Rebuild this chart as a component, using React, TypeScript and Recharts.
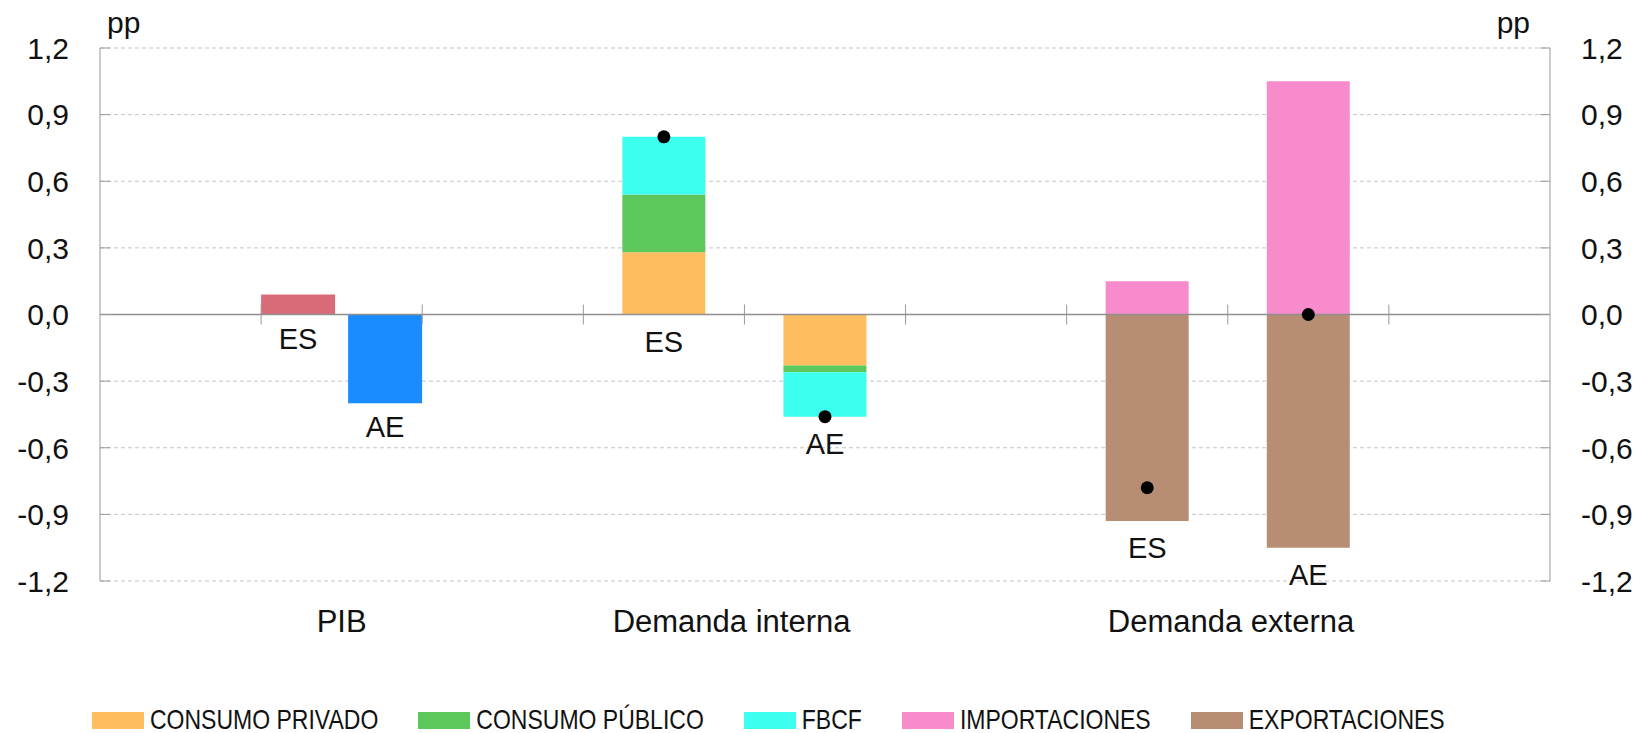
import React from 'react';
import { BarChart, Bar, Line, XAxis, YAxis, CartesianGrid, ReferenceLine, Legend, LabelList } from 'recharts';

// nine slots along the category axis; empty ones leave the gaps between groups
const huecos = ['h0', 'PIB', 'h2', 'DI-ES', 'DI-AE', 'h5', 'DE-ES', 'DE-AE', 'h8'];
const zonas = ['', '', '', 'ES', 'AE', '', 'ES', 'AE', ''];

const consumoPrivado = [null, null, null, 0.28, -0.23, null, null, null, null];
const consumoPublico = [null, null, null, 0.26, -0.03, null, null, null, null];
const fbcf = [null, null, null, 0.26, -0.2, null, null, null, null];
const importaciones = [null, null, null, null, null, null, 0.15, 1.05, null];
const exportaciones = [null, null, null, null, null, null, -0.93, -1.05, null];
const contribucion = [null, null, null, 0.8, -0.46, null, -0.78, 0.0, null];

const pibES = [null, 0.09, null, null, null, null, null, null, null];
const pibAE = [null, -0.4, null, null, null, null, null, null, null];

const grupos = ['PIB', 'Demanda interna', 'Demanda externa'];
const posGrupos = [1.5, 3.92, 7.02];
const limites = [1, 2, 3, 4, 5, 6, 7, 8];
const yTicks = [-1.2, -0.9, -0.6, -0.3, 0, 0.3, 0.6, 0.9, 1.2];
const ordenLeyenda = ['CONSUMO PRIVADO', 'CONSUMO PÚBLICO', 'FBCF', 'IMPORTACIONES', 'EXPORTACIONES'];

const INK = '#111111';
const GRIS = '#999999';
const FONT = '"Liberation Sans", Arial, Helvetica, sans-serif';

const data = huecos.map((slot, i) => {
  const partes = [consumoPrivado[i], consumoPublico[i], fbcf[i], importaciones[i], exportaciones[i]];
  const negativo = partes.reduce<number>((s, v) => s + (v !== null && v < 0 ? v : 0), 0);
  return {
    slot,
    centro: i + 0.5,
    cp: consumoPrivado[i],
    cpub: consumoPublico[i],
    fbcf: fbcf[i],
    imp: importaciones[i],
    exp: exportaciones[i],
    total: contribucion[i],
    base: zonas[i] ? negativo : null,
    pibES: pibES[i],
    pibAE: pibAE[i],
  };
});

const fmt = (v: number) => v.toFixed(1).replace('.', ',');

const TickIzq = (props: any) => {
  const { x, y, payload } = props;
  return (
    <g>
      <line x1={x + 31} x2={x + 41} y1={y} y2={y} stroke={GRIS} />
      <text x={x} y={y} dy="0.36em" textAnchor="end" fontSize={30} fill={INK}>
        {fmt(payload.value)}
      </text>
    </g>
  );
};

const TickDer = (props: any) => {
  const { x, y, payload } = props;
  return (
    <g>
      <line x1={x - 31} x2={x - 41} y1={y} y2={y} stroke={GRIS} />
      <text x={x} y={y} dy="0.36em" textAnchor="start" fontSize={30} fill={INK}>
        {fmt(payload.value)}
      </text>
    </g>
  );
};

const TickGrupo = (props: any) => {
  const { x, y, payload } = props;
  const i = posGrupos.indexOf(payload.value);
  return (
    <text x={x} y={y + 21} textAnchor="middle" fontSize={31} fill={INK}>
      {grupos[i]}
    </text>
  );
};

const ppIzq = (props: any) => {
  const vb = props.viewBox || {};
  return (
    <text x={vb.x + vb.width + 7} y={vb.y - 15} fontSize={30} fill={INK}>
      pp
    </text>
  );
};

const ppDer = (props: any) => {
  const vb = props.viewBox || {};
  return (
    <text x={vb.x - 20} y={vb.y - 15} textAnchor="end" fontSize={30} fill={INK}>
      pp
    </text>
  );
};

// label under the bar (or under the zero line when the bar is positive)
const bajoBarra = (texto: string) => (props: any) => {
  const vb = props.viewBox || props;
  if (props.value === null || props.value === undefined) return null;
  const bottom = Math.max(vb.y, vb.y + vb.height);
  return (
    <text x={vb.x + vb.width / 2} y={bottom + 34} textAnchor="middle" fontSize={29} fill={INK}>
      {texto}
    </text>
  );
};

const bajoPila = (props: any) => {
  const { index } = props;
  if (!zonas[index] || props.value === null || props.value === undefined) return null;
  const x = props.x ?? props.viewBox?.x;
  const y = props.y ?? props.viewBox?.y;
  return (
    <text x={x} y={y + 37} textAnchor="middle" fontSize={29} fill={INK}>
      {zonas[index]}
    </text>
  );
};

const Leyenda = (props: any) => {
  const items = (props.payload || [])
    .filter((e: any) => ordenLeyenda.includes(e.value))
    .sort((a: any, b: any) => ordenLeyenda.indexOf(a.value) - ordenLeyenda.indexOf(b.value));
  return (
    <div
      style={{
        height: 40,
        boxSizing: 'border-box',
        paddingTop: 19,
        paddingLeft: 92,
        display: 'flex',
        alignItems: 'flex-start',
      }}
    >
      {items.map((e: any) => (
        <div key={e.value} style={{ display: 'flex', alignItems: 'center', height: 17, marginRight: 40 }}>
          <span style={{ width: 52, height: 17, background: e.color, display: 'inline-block' }} />
          <span
            style={{
              marginLeft: 6,
              fontFamily: FONT,
              fontSize: 23,
              lineHeight: '17px',
              color: INK,
              whiteSpace: 'nowrap',
              display: 'inline-block',
              transform: 'scaleY(1.2)',
              transformOrigin: '50% 50%',
            }}
          >
            {e.value}
          </span>
        </div>
      ))}
    </div>
  );
};

const App = () => {
  return (
    <div style={{ position: 'absolute', left: 0, top: 0, fontFamily: FONT, background: '#fff' }}>
      <BarChart
        width={1640}
        height={733}
        data={data}
        margin={{ top: 48, right: 0, bottom: 0, left: 0 }}
        stackOffset="sign"
        barGap={13}
      >
        <XAxis xAxisId="main" dataKey="slot" hide />
        <XAxis xAxisId="pib" dataKey="slot" hide />
        <XAxis
          xAxisId="num"
          dataKey="centro"
          type="number"
          domain={[0, 9]}
          allowDataOverflow
          ticks={posGrupos}
          tick={<TickGrupo />}
          tickLine={false}
          axisLine={false}
          tickSize={0}
          tickMargin={0}
          height={112}
          interval={0}
        />
        <YAxis
          yAxisId="left"
          orientation="left"
          domain={[-1.2, 1.2]}
          ticks={yTicks}
          allowDataOverflow
          width={100}
          tick={<TickIzq />}
          tickLine={false}
          tickSize={0}
          tickMargin={31}
          axisLine={{ stroke: GRIS }}
          interval={0}
          label={{ content: ppIzq }}
        />
        <YAxis
          yAxisId="right"
          orientation="right"
          domain={[-1.2, 1.2]}
          ticks={yTicks}
          allowDataOverflow
          width={90}
          tick={<TickDer />}
          tickLine={false}
          tickSize={0}
          tickMargin={31}
          axisLine={{ stroke: GRIS }}
          interval={0}
          label={{ content: ppDer }}
        />
        <CartesianGrid
          xAxisId="num"
          yAxisId="left"
          vertical={false}
          stroke="#c4c4c4"
          strokeDasharray="4 3"
        />
        {limites.map((k) => (
          <ReferenceLine
            key={k}
            xAxisId="num"
            yAxisId="left"
            segment={[
              { x: k, y: -0.045 },
              { x: k, y: 0.045 },
            ]}
            stroke={GRIS}
            strokeWidth={1}
          />
        ))}
        <Bar xAxisId="main" yAxisId="left" dataKey="cp" name="CONSUMO PRIVADO" stackId="d" fill="#FEBD5F" barSize={83} isAnimationActive={false} />
        <Bar xAxisId="main" yAxisId="left" dataKey="cpub" name="CONSUMO PÚBLICO" stackId="d" fill="#5CC85C" barSize={83} isAnimationActive={false} />
        <Bar xAxisId="main" yAxisId="left" dataKey="fbcf" name="FBCF" stackId="d" fill="#3DFFF0" barSize={83} isAnimationActive={false} />
        <Bar xAxisId="main" yAxisId="left" dataKey="imp" name="IMPORTACIONES" stackId="d" fill="#F88BCB" barSize={83} isAnimationActive={false} />
        <Bar xAxisId="main" yAxisId="left" dataKey="exp" name="EXPORTACIONES" stackId="d" fill="#B78E73" barSize={83} isAnimationActive={false} />
        <Bar xAxisId="pib" yAxisId="left" dataKey="pibES" fill="#D96B78" barSize={74} legendType="none" isAnimationActive={false}>
          <LabelList dataKey="pibES" content={bajoBarra('ES')} />
        </Bar>
        <Bar xAxisId="pib" yAxisId="left" dataKey="pibAE" fill="#1A8CFF" barSize={74} legendType="none" isAnimationActive={false}>
          <LabelList dataKey="pibAE" content={bajoBarra('AE')} />
        </Bar>
        <ReferenceLine xAxisId="num" yAxisId="left" y={0} stroke="#8f8f8f" strokeWidth={1.5} />
        <Line
          xAxisId="main"
          yAxisId="left"
          dataKey="base"
          stroke="none"
          dot={false}
          activeDot={false}
          legendType="none"
          isAnimationActive={false}
        >
          <LabelList dataKey="base" content={bajoPila} />
        </Line>
        <Line
          xAxisId="main"
          yAxisId="left"
          dataKey="total"
          stroke="none"
          dot={{ r: 6.5, fill: '#000', stroke: '#000', strokeWidth: 0 }}
          activeDot={false}
          legendType="none"
          isAnimationActive={false}
        />
        <Legend
          verticalAlign="bottom"
          align="left"
          content={<Leyenda />}
          wrapperStyle={{ left: 0, bottom: 0, width: 1640 }}
        />
      </BarChart>
    </div>
  );
};

export default App;
